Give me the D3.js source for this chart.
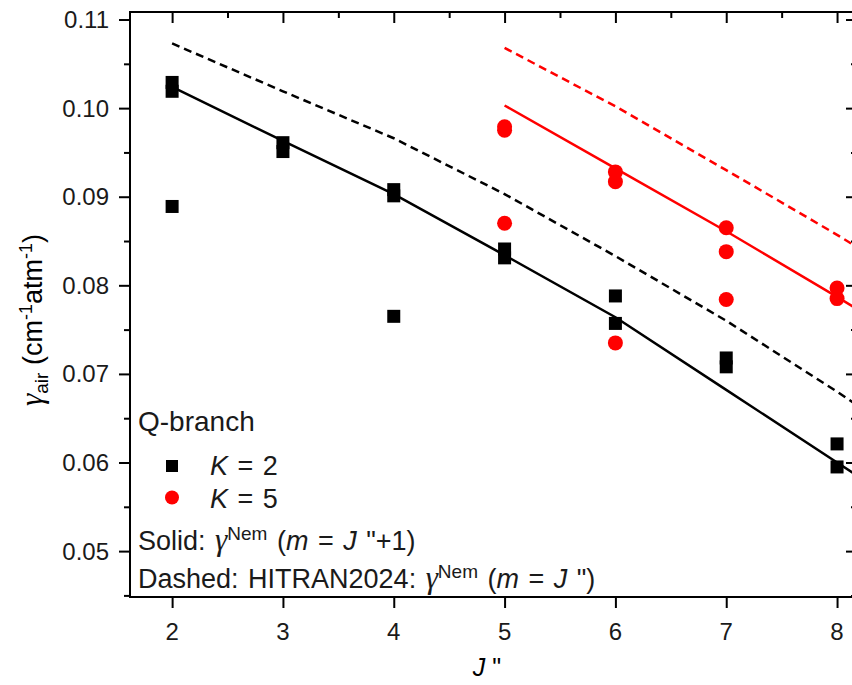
<!DOCTYPE html>
<html>
<head>
<meta charset="utf-8">
<script src="https://cdn.jsdelivr.net/npm/d3@7/dist/d3.min.js"></script>
<style>
  body { margin: 0; background: #fff; }
  svg { display: block; font-family: 'Liberation Sans', Arial, sans-serif; }
  .axis-line { stroke: #000; stroke-width: 2; fill: none; }
  .tick-label { font-size: 24px; fill: #1a1a1a; }
  .legend text { font-size: 27px; fill: #1a1a1a; word-spacing: 2px; }
  .greek { font-family: 'Liberation Serif', 'Times New Roman', serif; font-style: italic; }
</style>
</head>
<body>
<svg id="chart" width="852" height="685"></svg>
<script>
// x positions of the calculated curves (J")
const curveJ = [2, 3, 4, 5, 6, 7, 8, 9];
const curveJK5 = [5, 6, 7, 8, 9];

// K = 2 measurements [J", gamma]
const k2Points = [
  [2, 0.1029], [2, 0.1019], [2, 0.0889],
  [3, 0.0961], [3, 0.0951],
  [4, 0.0908], [4, 0.0901], [4, 0.0765],
  [5, 0.0841], [5, 0.0831],
  [6, 0.0788], [6, 0.0757],
  [7, 0.0718], [7, 0.0708],
  [8, 0.0621], [8, 0.0595],
];

// K = 5 measurements [J", gamma]
const k5Points = [
  [5, 0.0979], [5, 0.0975], [5, 0.0870],
  [6, 0.0928], [6, 0.0917], [6, 0.0735],
  [7, 0.0865], [7, 0.0838], [7, 0.0784],
  [8, 0.0797], [8, 0.0785],
];

// gamma Nem, m = J"+1 (solid) and HITRAN2024 m = J" (dashed)
const k2Solid = [0.1024, 0.0963, 0.0903, 0.0834, 0.0764, 0.0682, 0.0600, 0.0518];
const k2Dashed = [0.1073, 0.1019, 0.0966, 0.0903, 0.0833, 0.0760, 0.0680, 0.0595];
const k5Solid = [0.1003, 0.0932, 0.0861, 0.0787, 0.0710];
const k5Dashed = [0.1068, 0.1002, 0.0930, 0.0857, 0.0780];

const xTicks = [2, 3, 4, 5, 6, 7, 8];
const xMinorTicks = [2.5, 3.5, 4.5, 5.5, 6.5, 7.5];
const yTicks = [0.05, 0.06, 0.07, 0.08, 0.09, 0.10, 0.11];
const yMinorTicks = [0.045, 0.055, 0.065, 0.075, 0.085, 0.095, 0.105];

const plotLeft = 130;
const plotRight = 857;
const plotTop = 12;
const plotBottom = 597;

const x = d3.scaleLinear()
    .domain([1.62, 8.18])
    .range([plotLeft, plotRight]);

const y = d3.scaleLinear()
    .domain([0.04482, 0.11085])
    .range([plotBottom, plotTop]);

const svg = d3.select('#chart');

svg.append('defs')
  .append('clipPath')
    .attr('id', 'plot-clip')
  .append('rect')
    .attr('x', plotLeft)
    .attr('y', plotTop)
    .attr('width', plotRight - plotLeft)
    .attr('height', plotBottom - plotTop);

// curves
const line = d3.line()
    .x(d => x(d[0]))
    .y(d => y(d[1]));

const curves = [
  { js: curveJ, vals: k2Dashed, color: '#000', dash: '8,5' },
  { js: curveJK5, vals: k5Dashed, color: '#f00', dash: '8,5' },
  { js: curveJ, vals: k2Solid, color: '#000', dash: null },
  { js: curveJK5, vals: k5Solid, color: '#f00', dash: null },
];

const plot = svg.append('g')
    .attr('clip-path', 'url(#plot-clip)');

curves.forEach((c) => {
  plot.append('path')
      .datum(d3.zip(c.js, c.vals))
      .attr('fill', 'none')
      .attr('stroke', c.color)
      .attr('stroke-width', 2.5)
      .attr('stroke-dasharray', c.dash)
      .attr('d', line);
});

// points
const sq = 13;
plot.selectAll('.k2')
    .data(k2Points)
  .enter().append('rect')
    .attr('class', 'k2')
    .attr('x', d => x(d[0]) - sq / 2)
    .attr('y', d => y(d[1]) - sq / 2)
    .attr('width', sq)
    .attr('height', sq)
    .attr('fill', '#000');

plot.selectAll('.k5')
    .data(k5Points)
  .enter().append('circle')
    .attr('class', 'k5')
    .attr('cx', d => x(d[0]))
    .attr('cy', d => y(d[1]))
    .attr('r', 7.5)
    .attr('fill', '#f00');

// frame + ticks
const tickAxis = (axis, pos, values, size) => {
  svg.append('g')
      .attr('transform', pos)
      .call(axis.tickValues(values).tickSize(size).tickFormat(''))
      .call(g => g.select('.domain').remove());
};

tickAxis(d3.axisBottom(x), `translate(0, ${plotBottom})`, xTicks, 11);
tickAxis(d3.axisBottom(x), `translate(0, ${plotTop})`, xTicks, 11);
tickAxis(d3.axisBottom(x), `translate(0, ${plotTop})`, xMinorTicks, 6);
tickAxis(d3.axisLeft(y), `translate(${plotLeft}, 0)`, yTicks, 11);
tickAxis(d3.axisLeft(y), `translate(${plotLeft}, 0)`, yMinorTicks, 6);
tickAxis(d3.axisLeft(y), `translate(${plotRight}, 0)`, yTicks, 11);
tickAxis(d3.axisLeft(y), `translate(${plotRight}, 0)`, yMinorTicks, 6);

svg.selectAll('.tick line')
    .attr('stroke', '#000')
    .attr('stroke-width', 2);

svg.append('rect')
    .attr('class', 'axis-line')
    .attr('x', plotLeft)
    .attr('y', plotTop)
    .attr('width', plotRight - plotLeft)
    .attr('height', plotBottom - plotTop);

// tick labels
svg.selectAll('.xlab')
    .data(xTicks)
  .enter().append('text')
    .attr('class', 'tick-label')
    .attr('x', d => x(d))
    .attr('y', 640)
    .attr('text-anchor', 'middle')
    .text(d => d);

svg.selectAll('.ylab')
    .data(yTicks)
  .enter().append('text')
    .attr('class', 'tick-label')
    .attr('x', 109)
    .attr('y', d => y(d) + 8.5)
    .attr('text-anchor', 'end')
    .text(d => d3.format('.2f')(d));

// axis titles
svg.append('text')
    .attr('x', 487)
    .attr('y', 676)
    .attr('text-anchor', 'middle')
    .style('font-size', '25px')
  .call((t) => {
    t.append('tspan').style('font-style', 'italic').text('J');
    t.append('tspan').text(' "');
  });

const yTitle = svg.append('text')
    .attr('transform', 'translate(42, 320) rotate(-90)')
    .attr('text-anchor', 'middle')
    .style('font-size', '27px');
yTitle.append('tspan').attr('class', 'greek').style('font-size', '31px').text('γ');
yTitle.append('tspan').attr('dy', 6).style('font-size', '19px').text('air');
yTitle.append('tspan').attr('dy', -6).text(' (cm');
yTitle.append('tspan').attr('dy', -10).style('font-size', '18px').text('-1');
yTitle.append('tspan').attr('dy', 10).text('atm');
yTitle.append('tspan').attr('dy', -10).style('font-size', '18px').text('-1');
yTitle.append('tspan').attr('dy', 10).text(')');

// legend
const legend = svg.append('g').attr('class', 'legend');

legend.append('text')
    .attr('x', 138)
    .attr('y', 431)
    .style('font-size', '28px')
    .text('Q-branch');

legend.append('rect')
    .attr('x', 172 - 6)
    .attr('y', 466 - 6)
    .attr('width', 12)
    .attr('height', 12)
    .attr('fill', '#000');

legend.append('circle')
    .attr('cx', 172)
    .attr('cy', 497.5)
    .attr('r', 7)
    .attr('fill', '#f00');

[['2', 475], ['5', 508]].forEach(([k, yy]) => {
  const t = legend.append('text').attr('x', 210).attr('y', yy);
  t.append('tspan').style('font-style', 'italic').text('K');
  t.append('tspan').text(` = ${k}`);
});

const nemLabel = (t) => {
  t.append('tspan').attr('class', 'greek').style('font-size', '31px').text('γ');
  t.append('tspan').attr('dy', -10).style('font-size', '19px').text('Nem');
  t.append('tspan').attr('dy', 10).text(' (');
  t.append('tspan').style('font-style', 'italic').text('m');
  t.append('tspan').text(' = ');
  t.append('tspan').style('font-style', 'italic').text('J');
};

const solid = legend.append('text').attr('x', 138).attr('y', 550);
solid.append('tspan').text('Solid: ');
nemLabel(solid);
solid.append('tspan').text(' "+1)');

const dashed = legend.append('text').attr('x', 138).attr('y', 588);
dashed.append('tspan').text('Dashed: HITRAN2024: ');
nemLabel(dashed);
dashed.append('tspan').text(' ")');
</script>
</body>
</html>
